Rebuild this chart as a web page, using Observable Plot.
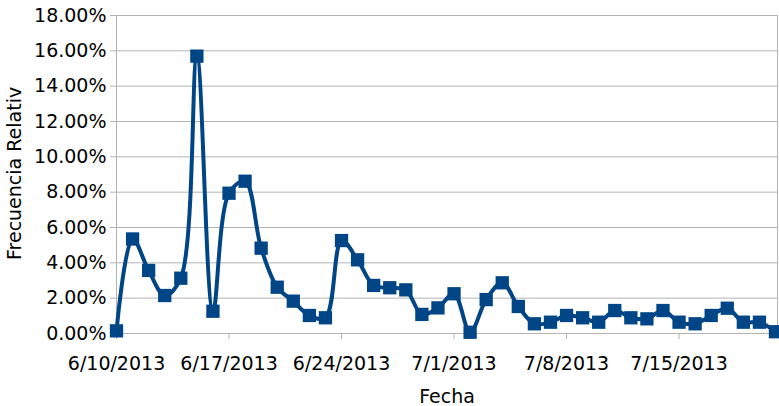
<!DOCTYPE html>
<html>
<head>
<meta charset="utf-8">
<script src="https://cdn.jsdelivr.net/npm/d3@7"></script>
<script src="https://cdn.jsdelivr.net/npm/@observablehq/plot@0.6"></script>
<style>
  html, body { margin: 0; padding: 0; background: #fff; }
  #chart { width: 779px; height: 406px; }
</style>
</head>
<body>
<div id="chart"></div>
<script>
const dates = [
  "2013-06-10","2013-06-11","2013-06-12","2013-06-13","2013-06-14","2013-06-15","2013-06-16",
  "2013-06-17","2013-06-18","2013-06-19","2013-06-20","2013-06-21","2013-06-22","2013-06-23",
  "2013-06-24","2013-06-25","2013-06-26","2013-06-27","2013-06-28","2013-06-29","2013-06-30",
  "2013-07-01","2013-07-02","2013-07-03","2013-07-04","2013-07-05","2013-07-06","2013-07-07",
  "2013-07-08","2013-07-09","2013-07-10","2013-07-11","2013-07-12","2013-07-13","2013-07-14",
  "2013-07-15","2013-07-16","2013-07-17","2013-07-18","2013-07-19","2013-07-20","2013-07-21"
];
const frecuencia = [
  0.15, 5.35, 3.57, 2.15, 3.13, 15.7, 1.26,
  7.94, 8.62, 4.83, 2.62, 1.83, 1.02, 0.89,
  5.26, 4.17, 2.72, 2.59, 2.47, 1.08, 1.45,
  2.25, 0.07, 1.92, 2.87, 1.53, 0.55, 0.64,
  1.02, 0.89, 0.64, 1.30, 0.89, 0.83, 1.30,
  0.64, 0.55, 1.02, 1.43, 0.64, 0.64, 0.10
];
const yTicks = [0, 2, 4, 6, 8, 10, 12, 14, 16, 18];
const xTicks = ["2013-06-10","2013-06-17","2013-06-24","2013-07-01","2013-07-08","2013-07-15"];
const xLabel = "Fecha";
const yLabel = "Frecuencia Relativa";

const parse = d3.utcParse("%Y-%m-%d");
const data = dates.map((d, i) => ({date: parse(d), value: frecuencia[i]}));
const fmtDate = d => `${d.getUTCMonth() + 1}/${d.getUTCDate()}/${d.getUTCFullYear()}`;

const blue = "#004586";
const grid = "#b3b3b3";
const fs = 19;

const chart = Plot.plot({
  width: 779,
  height: 406,
  marginLeft: 116,
  marginRight: 2,
  marginTop: 15,
  marginBottom: 73,
  style: {fontFamily: "'DejaVu Sans', sans-serif", fontSize: fs + "px", color: "#000", background: "#fff"},
  x: {type: "utc", domain: [parse("2013-06-10"), new Date(Date.UTC(2013, 6, 21, 3))]},
  y: {domain: [0, 18]},
  marks: [
    Plot.gridY(yTicks, {stroke: grid, strokeOpacity: 1}),
    Plot.frame({stroke: grid}),
    Plot.axisY(yTicks, {tickSize: 6, tickPadding: 4, stroke: grid, fill: "#000", fontSize: fs, tickFormat: d => d.toFixed(2) + "%", label: null}),
    Plot.axisX(xTicks.map(parse), {tickSize: 6, tickPadding: 17, stroke: grid, fill: "#000", fontSize: fs, tickFormat: fmtDate, label: null}),
    Plot.lineY(data, {x: "date", y: "value", stroke: blue, strokeWidth: 4, curve: "catmull-rom"}),
    Plot.dot(data, {x: "date", y: "value", symbol: "square", r: 7.5, fill: blue, stroke: "none"}),
    Plot.text([xLabel], {frameAnchor: "bottom", lineAnchor: "middle", dy: 63, text: d => d, fill: "#000", fontSize: fs})
  ]
});

const svg = d3.select(chart);
svg.append("defs").append("clipPath").attr("id", "ylabclip")
  .append("rect").attr("x", 0).attr("y", 87).attr("width", 40).attr("height", 300);
svg.append("g").attr("clip-path", "url(#ylabclip)")
  .append("text")
  .attr("transform", "translate(21,260) rotate(-90)")
  .attr("text-anchor", "start")
  .attr("fill", "#000")
  .attr("font-family", "'DejaVu Sans', sans-serif")
  .attr("font-size", fs)
  .text(yLabel);

document.getElementById("chart").appendChild(chart);
</script>
</body>
</html>
